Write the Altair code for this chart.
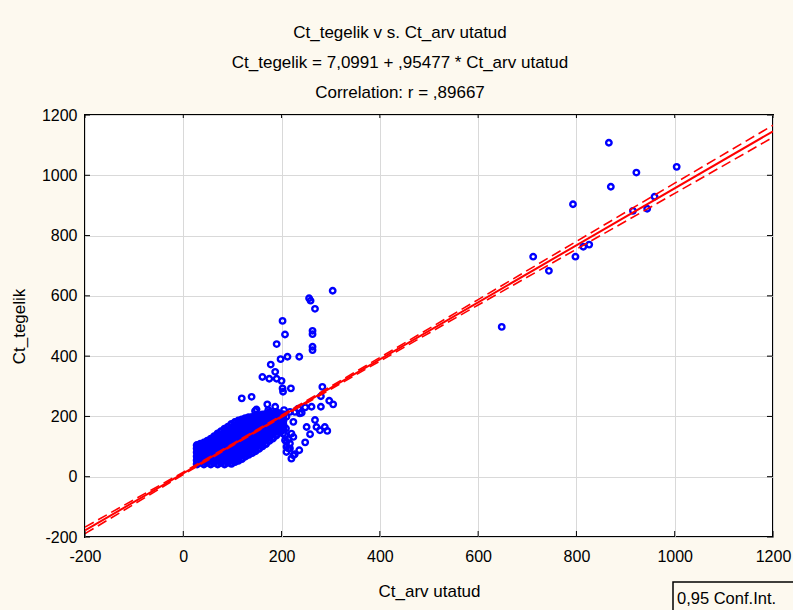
import altair as alt
import pandas as pd

# ---------------- data ----------------
# dense cluster, column by column: (Ct_arvutatud, [Ct_tegelik values])
blob_cols = [
    (28, [42, 55, 68, 81, 94, 104]),
    (35, [48, 61, 74, 87, 100, 108]),
    (42, [42, 55, 68, 81, 94, 107, 112]),
    (49, [48, 61, 74, 87, 100, 113, 118]),
    (56, [42, 55, 68, 81, 94, 107, 120, 125]),
    (63, [48, 61, 74, 87, 100, 113, 126, 133]),
    (70, [42, 55, 68, 81, 94, 107, 120, 133, 142]),
    (77, [48, 61, 74, 87, 100, 113, 126, 139, 150]),
    (84, [42, 55, 68, 81, 94, 107, 120, 133, 146, 158]),
    (91, [48, 61, 74, 87, 100, 113, 126, 139, 152, 165]),
    (98, [44, 57, 70, 83, 96, 109, 122, 135, 148, 161, 174]),
    (105, [50, 63, 76, 89, 102, 115, 128, 141, 154, 167, 180]),
    (112, [54, 67, 80, 93, 106, 119, 132, 145, 158, 171, 185]),
    (119, [60, 73, 86, 99, 112, 125, 138, 151, 164, 177, 189]),
    (126, [68, 81, 94, 107, 120, 133, 146, 159, 172, 185, 193]),
    (133, [74, 87, 100, 113, 126, 139, 152, 165, 178, 191, 196]),
    (140, [80, 93, 106, 119, 132, 145, 158, 171, 184, 197]),
    (147, [86, 99, 112, 125, 138, 151, 164, 177, 190, 201]),
    (154, [94, 107, 120, 133, 146, 159, 172, 185, 198, 203]),
    (161, [102, 115, 128, 141, 154, 167, 180, 193, 205]),
    (168, [110, 123, 136, 149, 162, 175, 188, 201, 207]),
    (175, [120, 133, 146, 159, 172, 185, 198, 208]),
    (182, [128, 141, 154, 167, 180, 193, 206]),
    (189, [138, 151, 164, 177, 190, 203, 209]),
    (196, [150, 163, 176, 189, 202, 208]),
    (203, [160, 173, 186, 199, 206]),
]

# scattered points
out_x = [866, 1004, 922, 870, 959, 793, 915, 944, 814, 826, 712, 798, 744, 648,
         304, 256, 259, 268, 202, 207, 263, 263, 263, 263, 190, 198, 212, 236,
         178, 187, 161, 175, 190, 200, 202, 203, 219, 119, 139, 283, 280, 297,
         305, 280, 261, 241, 171, 187, 173, 149, 234, 248, 237, 227, 146, 176,
         190, 205,
         251, 268, 271, 288, 293, 258, 278, 248, 236, 224, 214, 210, 217, 224,
         203, 207, 227, 217, 210, 214, 220, 209, 203, 210, 224, 217, 207, 210,
         220]
out_y = [1108, 1028, 1009, 962, 929, 904, 882, 889, 763, 770, 730, 730, 683, 497,
         617, 592, 584, 557, 517, 472, 484, 473, 431, 420, 440, 390, 398, 398,
         372, 348, 331, 325, 325, 318, 293, 282, 293, 260, 265, 298, 267, 252,
         240, 232, 232, 212, 240, 232, 221, 223, 226, 230, 210, 215, 218, 215,
         215, 221,
         165, 188, 165, 165, 152, 141, 154, 114, 88, 71, 94, 82, 110, 132,
         143, 121, 75, 94, 99, 124, 143, 160, 177, 199, 182, 215, 138, 116,
         60]

# regression line and 0.95 confidence band
fit_x = [-200, 1200]
fit_y = [-178, 1146]
ci_x = [-200, 0, 100, 200, 400, 600, 800, 1000, 1200]
ci_hi = [-167, 15.1, 108.7, 203.8, 395.4, 587.6, 780.7, 973.9, 1166]
ci_lo = [-189, 7.1, 102.7, 196.8, 383.4, 569.6, 754.7, 939.9, 1126]

tick_vals = [-200, 0, 200, 400, 600, 800, 1000, 1200]

title_lines = ["Ct_tegelik v s. Ct_arv utatud",
               "Ct_tegelik = 7,0991 + ,95477 * Ct_arv utatud",
               "Correlation: r = ,89667"]
x_title = "Ct_arv utatud"
y_title = "Ct_tegelik"
legend_text = "0,95 Conf.Int."

# ---------------- build ----------------
FONT = "Liberation Sans"
W, H = 688, 422
LABEL_EXPR = "datum.value < 0 ? '-' + format(-datum.value, 'd') : format(datum.value, 'd')"

bx, by = [], []
for cx, ys in blob_cols:
    for yv in ys:
        bx.append(cx)
        by.append(yv)
blob = pd.DataFrame({"xv": bx, "yv": by})
pts = pd.DataFrame({"xv": out_x, "yv": out_y})
fit = pd.DataFrame({"xv": fit_x, "yv": fit_y})
ci = pd.DataFrame({"xv": ci_x, "hi": ci_hi, "lo": ci_lo})
ticks = pd.DataFrame({"t": tick_vals})
one = pd.DataFrame({"a": [0]})

sc = alt.Scale(domain=[-200, 1200], nice=False, zero=False)

xaxis = alt.Axis(values=tick_vals, grid=True, gridColor="#D9D9D9", gridWidth=1,
                 domain=False, ticks=False, labelFont=FONT, labelFontSize=16,
                 labelColor="black", labelPadding=11, labelFlush=False,
                 labelOverlap=False, labelExpr=LABEL_EXPR,
                 titleFont=FONT, titleFontSize=17,
                 titleFontWeight="normal", titleColor="black", titlePadding=19)
yaxis = alt.Axis(values=tick_vals, grid=True, gridColor="#D9D9D9", gridWidth=1,
                 domain=False, ticks=False, labelFont=FONT, labelFontSize=16,
                 labelColor="black", labelPadding=8, labelFlush=False,
                 labelOverlap=False, labelExpr=LABEL_EXPR,
                 titleFont=FONT, titleFontSize=17,
                 titleFontWeight="normal", titleColor="black", titlePadding=13)


def X(f):
    return alt.X(f, type="quantitative", scale=sc, axis=xaxis, title=x_title)


def Y(f):
    return alt.Y(f, type="quantitative", scale=sc, axis=yaxis, title=y_title)


blob_layer = alt.Chart(blob).mark_point(
    shape="circle", filled=False, color="#0000FF", size=30, strokeWidth=3.2,
    opacity=1, clip=True
).encode(x=X("xv"), y=Y("yv"))

points = alt.Chart(pts).mark_point(
    shape="circle", filled=False, color="#0000FF", size=30, strokeWidth=2.4,
    opacity=1, clip=True
).encode(x=X("xv"), y=Y("yv"))

fit_line = alt.Chart(fit).mark_line(color="#FF0000", strokeWidth=2, clip=True).encode(
    x=X("xv"), y=Y("yv"))
ci_hi_line = alt.Chart(ci).mark_line(color="#FF0000", strokeWidth=1.6,
                                     strokeDash=[10, 5], clip=True).encode(
    x=X("xv"), y=Y("hi"))
ci_lo_line = alt.Chart(ci).mark_line(color="#FF0000", strokeWidth=1.6,
                                     strokeDash=[10, 5], clip=True).encode(
    x=X("xv"), y=Y("lo"))

tick_bottom = alt.Chart(ticks).mark_rule(color="black", strokeWidth=1).encode(
    x=X("t"), y=alt.value(H - 6), y2=alt.value(H))
tick_top = alt.Chart(ticks).mark_rule(color="black", strokeWidth=1).encode(
    x=X("t"), y=alt.value(0), y2=alt.value(3))
tick_left = alt.Chart(ticks).mark_rule(color="black", strokeWidth=1).encode(
    y=Y("t"), x=alt.value(0), x2=alt.value(5))
tick_right = alt.Chart(ticks).mark_rule(color="black", strokeWidth=1).encode(
    y=Y("t"), x=alt.value(W - 6), x2=alt.value(W))

leg_box = alt.Chart(one).mark_rect(fill="#FDF9EF", stroke="black", strokeWidth=1.5).encode(
    x=alt.value(588), x2=alt.value(730), y=alt.value(467), y2=alt.value(530))
leg_text = alt.Chart(one).mark_text(
    align="left", baseline="alphabetic", font=FONT, fontSize=16.5, color="black"
).encode(x=alt.value(592), y=alt.value(489), text=alt.value(legend_text))

chart = alt.layer(
    blob_layer, points, ci_hi_line, ci_lo_line, fit_line,
    tick_bottom, tick_top, tick_left, tick_right,
    leg_box, leg_text
).properties(
    width=W, height=H,
    title=alt.TitleParams(text=title_lines, anchor="middle", font=FONT,
                          fontSize=17, fontWeight="normal", color="black",
                          lineHeight=30, dx=-29, offset=5),
    autosize=alt.AutoSizeParams(type="none"),
    padding={"left": 85, "top": 115, "right": 20, "bottom": 73},
    background="#FDF9EF",
).configure_view(
    fill="white", stroke="black", strokeWidth=2
)

chart.save("out.html", embed_options={"renderer": "svg", "actions": False})
